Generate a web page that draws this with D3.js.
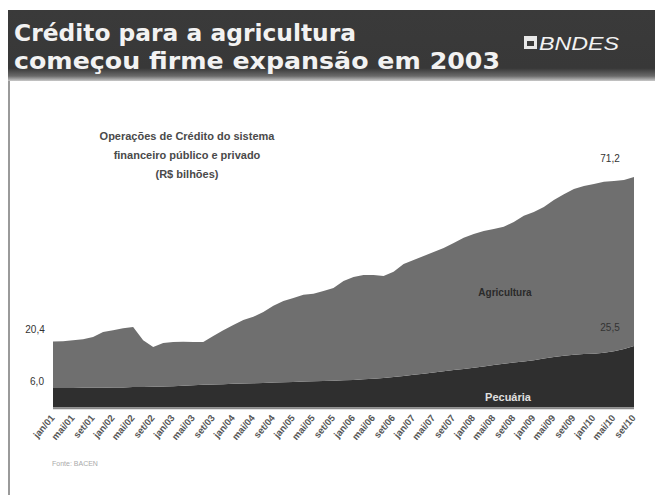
<!DOCTYPE html>
<html><head><meta charset="utf-8">
<script src="https://cdn.jsdelivr.net/npm/d3@7"></script>
<style>body{margin:0;background:#fff}svg{display:block}</style>
</head><body>
<svg id="c" width="655" height="495"></svg>
<script>
// bimonthly periods
const periods = ["jan/01","mar/01","mai/01","jul/01","set/01","nov/01",
"jan/02","mar/02","mai/02","jul/02","set/02","nov/02",
"jan/03","mar/03","mai/03","jul/03","set/03","nov/03",
"jan/04","mar/04","mai/04","jul/04","set/04","nov/04",
"jan/05","mar/05","mai/05","jul/05","set/05","nov/05",
"jan/06","mar/06","mai/06","jul/06","set/06","nov/06",
"jan/07","mar/07","mai/07","jul/07","set/07","nov/07",
"jan/08","mar/08","mai/08","jul/08","set/08","nov/08",
"jan/09","mar/09","mai/09","jul/09","set/09","nov/09",
"jan/10","mar/10","mai/10","jul/10","set/10"];
const pecuaria = [6.0,6.0,6.0,6.1,6.1,6.1,6.2,6.2,6.3,6.3,6.4,6.5,6.6,6.7,6.9,7.0,7.1,7.2,7.3,7.4,
7.5,7.6,7.7,7.8,7.9,8.0,8.1,8.2,8.3,8.4,8.5,8.7,8.9,9.1,9.4,9.7,10.1,10.4,10.8,11.2,
11.6,11.9,12.3,12.7,13.1,13.5,13.9,14.2,14.6,15.1,15.6,16.0,16.3,16.5,16.6,16.9,17.4,18.1,19.0];
const agricultura = [14.4,14.5,14.8,15.0,15.7,17.2,17.7,18.3,18.6,14.5,12.3,13.4,13.6,13.6,13.3,13.2,15.0,16.7,18.2,19.6,
20.5,21.9,23.7,25.1,25.9,26.8,27.0,27.8,28.6,30.7,31.8,32.2,32.0,31.5,32.5,34.6,35.5,36.4,37.2,38.1,
39.2,40.5,41.3,41.8,42.0,42.3,43.4,45.0,45.8,46.8,48.5,49.9,51.2,51.9,52.4,52.8,52.6,52.2,52.2];
const tickLabels = ["jan/01","mai/01","set/01","jan/02","mai/02","set/02","jan/03","mai/03","set/03",
"jan/04","mai/04","set/04","jan/05","mai/05","set/05","jan/06","mai/06","set/06","jan/07","mai/07","set/07",
"jan/08","mai/08","set/08","jan/09","mai/09","set/09","jan/10","mai/10","set/10"];
const seriesNames = ["Pecuária","Agricultura"];
const titleLines = ["Crédito para a agricultura","começou firme expansão em 2003"];
const subtitleLines = ["Operações de Crédito do sistema","financeiro público e privado","(R$ bilhões)"];

const svg = d3.select("#c");
// header banner
const defs = svg.append("defs");
const g1 = defs.append("linearGradient").attr("id","hg").attr("x1",0).attr("y1",0).attr("x2",0).attr("y2",1);
g1.append("stop").attr("offset","0").attr("stop-color","#3a3a3a");
g1.append("stop").attr("offset","0.82").attr("stop-color","#383838");
g1.append("stop").attr("offset","0.93").attr("stop-color","#6a6a6a");
g1.append("stop").attr("offset","1").attr("stop-color","#c8c8c8");
svg.append("rect").attr("x",8).attr("y",10).attr("width",647).attr("height",71).attr("fill","url(#hg)");
svg.append("line").attr("x1",9).attr("x2",9).attr("y1",81).attr("y2",495).attr("stroke","#9a9a9a").attr("stroke-width",2);

const tFont = "'DejaVu Sans', Verdana, sans-serif";
svg.append("text").attr("x",14).attr("y",41).text(titleLines[0])
  .attr("font-family",tFont).attr("font-weight","bold").attr("font-size",23).attr("fill","#f2f2f2")
  .attr("textLength",342).attr("lengthAdjust","spacingAndGlyphs");
svg.append("text").attr("x",14).attr("y",69).text(titleLines[1])
  .attr("font-family",tFont).attr("font-weight","bold").attr("font-size",23).attr("fill","#f2f2f2")
  .attr("textLength",486).attr("lengthAdjust","spacingAndGlyphs");
// logo
svg.append("rect").attr("x",524).attr("y",36).attr("width",13).attr("height",13).attr("fill","#e8e8e8");
svg.append("rect").attr("x",527).attr("y",41).attr("width",7).attr("height",5).attr("fill","#3a3a3a");
svg.append("text").attr("x",539).attr("y",50).text("BNDES")
  .attr("font-family","'Liberation Sans Narrow', 'Liberation Sans', Arial, sans-serif").attr("font-style","italic")
  .attr("font-size",19).attr("fill","#f2f2f2").attr("textLength",80).attr("lengthAdjust","spacingAndGlyphs");

// chart
const x = d3.scalePoint().domain(periods).range([53,634]);
const y = d3.scaleLinear().domain([0,71.2]).range([407.5,177]);
const data = periods.map((p,i)=>({p, "Pecuária":pecuaria[i], "Agricultura":agricultura[i]}));
const stack = d3.stack().keys(seriesNames)(data);
const colors = {"Pecuária":"#2f2f2f","Agricultura":"#6f6f6f"};
const area = d3.area().x(d=>x(d.data.p)).y0(d=>y(d[0])).y1(d=>y(d[1])).curve(d3.curveLinear);
svg.append("g").selectAll("path").data(stack).join("path")
  .attr("d",area).attr("fill",d=>colors[d.key]);
svg.append("line").attr("x1",53).attr("x2",634).attr("y1",408.5).attr("y2",408.5).attr("stroke","#8a8a8a").attr("stroke-width",1.5);

// x axis
const xAxis = d3.axisBottom(x).tickValues(tickLabels).tickSize(0).tickPadding(0);
const ax = svg.append("g").attr("transform","translate(0,414)").call(xAxis);
ax.select(".domain").remove();
ax.selectAll("text").attr("font-family","Arial, 'Liberation Sans', sans-serif").attr("font-size",9.5)
  .attr("font-weight","bold").attr("fill","#555")
  .attr("text-anchor","end").attr("dy","0.35em").attr("transform","translate(-1,2) rotate(-50)");

// subtitle
const sF = "Arial, 'Liberation Sans', sans-serif";
subtitleLines.forEach((s,i)=>{
  svg.append("text").attr("x",187).attr("y",140+i*19).attr("text-anchor","middle").text(s)
    .attr("font-family",sF).attr("font-weight","bold").attr("font-size",11).attr("fill","#4a4a4a");
});
// value labels
const n = periods.length-1;
const tot0 = pecuaria[0]+agricultura[0];
const totN = pecuaria[n]+agricultura[n];
function lab(t,xx,yy,anchor,col,sz,w){
  svg.append("text").attr("x",xx).attr("y",yy).attr("text-anchor",anchor).text(t)
    .attr("font-family",sF).attr("font-size",sz||10).attr("font-weight",w||"normal").attr("fill",col||"#333");
}
lab(d3.format(".1f")(tot0).replace(".",","), 35, 333, "middle");
lab(d3.format(".1f")(pecuaria[0]).replace(".",","), 37, 385, "middle");
lab(d3.format(".1f")(totN).replace(".",","), 610, 162, "middle");
lab("25,5", 610, 331, "middle");
lab(seriesNames[1], 505, 296, "middle", "#2a2a2a", 10, "bold");
lab(seriesNames[0], 508, 401, "middle", "#e0e0e0", 11, "bold");
lab("Fonte: BACEN", 52, 466, "start", "#aaa", 7);
</script>
</body></html>
